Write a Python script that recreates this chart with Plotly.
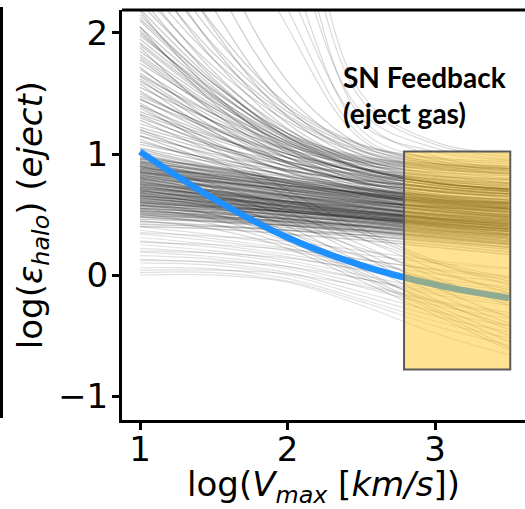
import plotly.graph_objects as go

# ---------------- data ----------------
knots_x = [1.0, 1.5, 2.0, 2.5, 3.0, 3.5]

core_lines = [
    [1.00, 0.88, 0.78, 0.70, 0.65, 0.62], [0.97, 0.85, 0.74, 0.66, 0.60, 0.57],
    [0.95, 0.84, 0.75, 0.67, 0.61, 0.58], [0.93, 0.81, 0.70, 0.62, 0.56, 0.52],
    [0.91, 0.82, 0.73, 0.66, 0.61, 0.59], [0.90, 0.79, 0.69, 0.61, 0.56, 0.54],
    [0.88, 0.76, 0.66, 0.57, 0.51, 0.48], [0.86, 0.77, 0.68, 0.61, 0.56, 0.52],
    [0.85, 0.77, 0.70, 0.64, 0.58, 0.55], [0.83, 0.74, 0.66, 0.60, 0.57, 0.55],
    [0.82, 0.72, 0.63, 0.56, 0.50, 0.47], [0.80, 0.73, 0.66, 0.59, 0.54, 0.50],
    [0.79, 0.70, 0.62, 0.56, 0.50, 0.46], [0.78, 0.69, 0.60, 0.52, 0.46, 0.42],
    [0.77, 0.68, 0.60, 0.53, 0.46, 0.39], [0.76, 0.70, 0.64, 0.58, 0.53, 0.49],
    [0.75, 0.68, 0.61, 0.55, 0.49, 0.44], [0.74, 0.66, 0.59, 0.52, 0.47, 0.44],
    [0.73, 0.65, 0.57, 0.50, 0.43, 0.38], [0.72, 0.67, 0.61, 0.56, 0.50, 0.46],
    [0.71, 0.64, 0.58, 0.51, 0.45, 0.40], [0.70, 0.63, 0.56, 0.49, 0.44, 0.40],
    [0.69, 0.63, 0.57, 0.51, 0.46, 0.41], [0.68, 0.63, 0.58, 0.53, 0.48, 0.45],
    [0.67, 0.60, 0.54, 0.47, 0.41, 0.36], [0.66, 0.60, 0.54, 0.48, 0.42, 0.38],
    [0.65, 0.61, 0.56, 0.51, 0.46, 0.42], [0.64, 0.58, 0.52, 0.46, 0.40, 0.34],
    [0.63, 0.59, 0.54, 0.49, 0.44, 0.41], [0.62, 0.56, 0.50, 0.44, 0.38, 0.33],
    [0.61, 0.57, 0.53, 0.48, 0.43, 0.38], [0.60, 0.55, 0.49, 0.43, 0.37, 0.32],
    [0.59, 0.56, 0.52, 0.47, 0.42, 0.37], [0.58, 0.53, 0.47, 0.41, 0.35, 0.30],
    [0.57, 0.54, 0.50, 0.45, 0.40, 0.36], [0.56, 0.51, 0.46, 0.40, 0.34, 0.28],
    [0.55, 0.52, 0.48, 0.44, 0.39, 0.34], [0.54, 0.49, 0.44, 0.38, 0.32, 0.26],
    [0.53, 0.50, 0.47, 0.42, 0.37, 0.33], [0.52, 0.48, 0.43, 0.37, 0.31, 0.25],
    [0.51, 0.48, 0.45, 0.41, 0.36, 0.31], [0.50, 0.46, 0.41, 0.35, 0.29, 0.23],
    [0.49, 0.47, 0.44, 0.40, 0.35, 0.30], [0.48, 0.44, 0.39, 0.33, 0.27, 0.21],
    [0.46, 0.44, 0.41, 0.37, 0.32, 0.27], [0.44, 0.41, 0.37, 0.31, 0.25, 0.19],
    [0.42, 0.40, 0.37, 0.33, 0.28, 0.23], [0.40, 0.38, 0.34, 0.29, 0.23, 0.17],
    [0.92, 0.83, 0.74, 0.66, 0.58, 0.52], [0.87, 0.80, 0.72, 0.64, 0.57, 0.51],
    [0.84, 0.78, 0.71, 0.63, 0.55, 0.49], [0.81, 0.74, 0.67, 0.60, 0.53, 0.48],
    [0.96, 0.86, 0.76, 0.68, 0.62, 0.60], [0.89, 0.81, 0.73, 0.65, 0.59, 0.55],
    [1.04, 0.90, 0.78, 0.69, 0.63, 0.60], [1.02, 0.89, 0.77, 0.68, 0.62, 0.58],
    [0.99, 0.87, 0.76, 0.67, 0.60, 0.55], [0.98, 0.88, 0.79, 0.71, 0.64, 0.59],
    [0.94, 0.85, 0.76, 0.68, 0.61, 0.56], [0.94, 0.82, 0.72, 0.63, 0.57, 0.53],
    [0.92, 0.80, 0.70, 0.62, 0.55, 0.50], [0.90, 0.82, 0.74, 0.67, 0.60, 0.55],
    [0.89, 0.78, 0.68, 0.60, 0.53, 0.48], [0.87, 0.78, 0.70, 0.62, 0.55, 0.50],
    [0.86, 0.75, 0.65, 0.57, 0.50, 0.45], [0.84, 0.76, 0.68, 0.61, 0.54, 0.49],
    [0.83, 0.73, 0.64, 0.56, 0.49, 0.44], [0.81, 0.73, 0.65, 0.58, 0.52, 0.47],
    [0.80, 0.70, 0.61, 0.53, 0.47, 0.43], [0.79, 0.72, 0.65, 0.59, 0.53, 0.48],
    [0.77, 0.69, 0.61, 0.54, 0.47, 0.42], [0.76, 0.67, 0.59, 0.51, 0.45, 0.41],
    [0.75, 0.69, 0.63, 0.57, 0.51, 0.46], [0.74, 0.65, 0.57, 0.50, 0.44, 0.39],
    [0.73, 0.67, 0.61, 0.55, 0.49, 0.45], [0.72, 0.64, 0.56, 0.49, 0.43, 0.38],
    [0.71, 0.66, 0.60, 0.54, 0.48, 0.43], [0.70, 0.62, 0.55, 0.48, 0.42, 0.37],
    [0.69, 0.64, 0.59, 0.53, 0.47, 0.42], [0.68, 0.61, 0.54, 0.47, 0.41, 0.36],
    [0.67, 0.62, 0.57, 0.52, 0.47, 0.43], [0.66, 0.59, 0.52, 0.46, 0.40, 0.35],
    [0.65, 0.60, 0.55, 0.50, 0.45, 0.40], [0.64, 0.57, 0.51, 0.45, 0.39, 0.34],
    [0.63, 0.58, 0.53, 0.48, 0.43, 0.39], [0.62, 0.57, 0.52, 0.47, 0.41, 0.36],
    [0.61, 0.55, 0.49, 0.43, 0.37, 0.32], [0.60, 0.56, 0.52, 0.47, 0.42, 0.38],
    [0.58, 0.54, 0.49, 0.44, 0.38, 0.33], [0.57, 0.52, 0.46, 0.40, 0.34, 0.29],
    [0.55, 0.51, 0.46, 0.41, 0.36, 0.31], [0.53, 0.49, 0.44, 0.39, 0.33, 0.28],
    [0.51, 0.47, 0.42, 0.37, 0.31, 0.26], [0.48, 0.45, 0.41, 0.36, 0.30, 0.25],
    [0.96, 0.89, 0.81, 0.73, 0.66, 0.61], [0.93, 0.86, 0.79, 0.72, 0.65, 0.60],
    [0.88, 0.83, 0.77, 0.71, 0.65, 0.60], [0.85, 0.80, 0.74, 0.68, 0.62, 0.57],
    [0.82, 0.77, 0.71, 0.65, 0.59, 0.54],
]

upper_lines = [
    [1.05, 0.93, 0.83, 0.75, 0.70, 0.67], [1.10, 0.95, 0.82, 0.72, 0.66, 0.63],
    [1.15, 1.00, 0.87, 0.78, 0.72, 0.69], [1.20, 1.02, 0.87, 0.76, 0.69, 0.65],
    [1.25, 1.07, 0.93, 0.83, 0.77, 0.74], [1.30, 1.08, 0.90, 0.77, 0.69, 0.65],
    [1.35, 1.14, 0.97, 0.86, 0.79, 0.76], [1.40, 1.15, 0.94, 0.80, 0.71, 0.67],
    [1.45, 1.20, 1.00, 0.88, 0.82, 0.79], [1.50, 1.21, 0.97, 0.81, 0.72, 0.67],
    [1.55, 1.27, 1.04, 0.91, 0.85, 0.82], [1.60, 1.27, 1.00, 0.82, 0.72, 0.67],
    [1.65, 1.33, 1.07, 0.93, 0.87, 0.84], [1.70, 1.33, 1.03, 0.84, 0.74, 0.69],
    [1.75, 1.38, 1.09, 0.94, 0.88, 0.85], [1.80, 1.38, 1.05, 0.85, 0.74, 0.69],
    [1.85, 1.43, 1.11, 0.95, 0.89, 0.87], [1.90, 1.44, 1.08, 0.87, 0.76, 0.71],
    [1.95, 1.48, 1.13, 0.96, 0.90, 0.88], [2.00, 1.49, 1.10, 0.88, 0.76, 0.71],
    [2.05, 1.53, 1.15, 0.97, 0.91, 0.89], [2.10, 1.55, 1.12, 0.88, 0.76, 0.70],
    [2.15, 1.58, 1.17, 0.98, 0.92, 0.90], [2.20, 1.60, 1.14, 0.89, 0.77, 0.71],
    [1.12, 0.92, 0.76, 0.64, 0.56, 0.52], [1.28, 1.02, 0.81, 0.67, 0.58, 0.53],
    [1.42, 1.10, 0.85, 0.69, 0.59, 0.54], [1.58, 1.18, 0.89, 0.71, 0.61, 0.55],
    [1.72, 1.26, 0.93, 0.73, 0.62, 0.56], [1.88, 1.34, 0.97, 0.75, 0.63, 0.57],
    [2.05, 1.42, 1.01, 0.77, 0.65, 0.58], [1.18, 0.98, 0.82, 0.70, 0.63, 0.59],
    [1.38, 1.08, 0.86, 0.72, 0.64, 0.60], [1.62, 1.22, 0.93, 0.76, 0.67, 0.62],
    [1.08, 0.96, 0.86, 0.78, 0.73, 0.70], [1.22, 1.05, 0.90, 0.79, 0.72, 0.68],
    [1.33, 1.12, 0.94, 0.82, 0.75, 0.71], [1.48, 1.22, 1.00, 0.85, 0.76, 0.71],
    [1.52, 1.18, 0.92, 0.76, 0.67, 0.62], [1.67, 1.30, 1.02, 0.85, 0.76, 0.72],
    [1.78, 1.36, 1.04, 0.84, 0.74, 0.69], [1.92, 1.46, 1.10, 0.89, 0.79, 0.75],
    [2.02, 1.47, 1.06, 0.83, 0.72, 0.67], [2.12, 1.58, 1.17, 0.93, 0.82, 0.78],
    [2.18, 1.50, 1.04, 0.80, 0.69, 0.64], [1.15, 0.94, 0.78, 0.67, 0.60, 0.56],
    [1.32, 1.06, 0.85, 0.71, 0.63, 0.59], [1.46, 1.16, 0.92, 0.77, 0.69, 0.65],
    [1.64, 1.26, 0.97, 0.79, 0.70, 0.66], [1.82, 1.40, 1.08, 0.88, 0.78, 0.73],
    [1.98, 1.52, 1.14, 0.92, 0.81, 0.76], [2.25, 1.65, 1.20, 0.95, 0.84, 0.79],
    [2.30, 1.62, 1.14, 0.88, 0.76, 0.71],
]

high_lines = [
    [2.35, 1.72, 1.27, 1.00, 0.88, 0.83], [2.45, 1.78, 1.30, 1.02, 0.90, 0.86],
    [2.55, 1.83, 1.32, 1.03, 0.92, 0.88], [2.70, 1.90, 1.35, 1.05, 0.94, 0.90],
    [2.85, 1.98, 1.38, 1.07, 0.96, 0.92], [3.00, 2.06, 1.41, 1.08, 0.97, 0.94],
    [2.40, 1.68, 1.17, 0.89, 0.77, 0.70], [2.60, 1.78, 1.21, 0.91, 0.79, 0.72],
    [2.80, 1.88, 1.25, 0.93, 0.80, 0.74], [3.10, 2.03, 1.31, 0.96, 0.83, 0.76],
    [3.40, 2.20, 1.38, 0.99, 0.86, 0.80], [3.80, 2.44, 1.48, 1.03, 0.89, 0.84],
    [4.20, 2.70, 1.60, 1.07, 0.92, 0.88],
]

steep_lines = [
    [6.0, 4.0, 2.40, 1.25, 1.02, 0.95], [7.0, 5.0, 2.90, 1.35, 1.05, 0.96],
    [8.0, 6.0, 3.50, 1.45, 1.08, 0.98], [6.5, 4.5, 2.60, 1.20, 0.95, 0.86],
    [7.5, 5.5, 3.20, 1.30, 0.98, 0.88], [9.0, 7.0, 4.00, 1.50, 1.10, 1.00],
    [5.5, 3.6, 2.20, 1.15, 0.92, 0.84], [5.0, 3.3, 2.05, 1.12, 0.93, 0.87],
]

low_lines = [
    [0.40, 0.33, 0.25, 0.17, 0.10, 0.05], [0.37, 0.30, 0.22, 0.13, 0.05, -0.01],
    [0.34, 0.28, 0.20, 0.10, 0.01, -0.06], [0.31, 0.25, 0.17, 0.07, -0.03, -0.10],
    [0.28, 0.23, 0.15, 0.04, -0.07, -0.15], [0.25, 0.20, 0.12, 0.00, -0.12, -0.20],
    [0.22, 0.18, 0.10, -0.03, -0.16, -0.25], [0.19, 0.15, 0.07, -0.07, -0.21, -0.31],
    [0.16, 0.13, 0.05, -0.10, -0.25, -0.36], [0.13, 0.10, 0.02, -0.14, -0.30, -0.42],
    [0.10, 0.08, 0.00, -0.17, -0.34, -0.47], [0.06, 0.05, -0.03, -0.20, -0.38, -0.52],
    [0.02, 0.02, -0.05, -0.22, -0.42, -0.58], [0.00, 0.00, -0.06, -0.25, -0.48, -0.66],
    [0.35, 0.32, 0.28, 0.20, 0.12, 0.06], [0.27, 0.25, 0.21, 0.13, 0.04, -0.03],
    [0.20, 0.18, 0.14, 0.05, -0.05, -0.13], [0.12, 0.11, 0.07, -0.03, -0.14, -0.23],
    [0.04, 0.04, 0.01, -0.09, -0.22, -0.33],
]

dive_lines = [
    [0.90, 0.75, 0.55, 0.30, 0.05, -0.15], [0.85, 0.72, 0.52, 0.25, -0.02, -0.25],
    [0.80, 0.68, 0.48, 0.20, -0.10, -0.35], [0.75, 0.64, 0.45, 0.16, -0.15, -0.40],
    [0.70, 0.60, 0.40, 0.10, -0.20, -0.45], [0.65, 0.56, 0.36, 0.05, -0.25, -0.50],
    [0.60, 0.50, 0.30, 0.02, -0.22, -0.42], [0.55, 0.46, 0.28, 0.00, -0.28, -0.55],
    [0.50, 0.42, 0.25, -0.02, -0.30, -0.60], [0.45, 0.38, 0.22, -0.05, -0.33, -0.62],
    [0.78, 0.66, 0.50, 0.30, 0.10, -0.05], [0.68, 0.58, 0.42, 0.22, 0.02, -0.12],
    [0.58, 0.50, 0.35, 0.15, -0.05, -0.20], [1.20, 0.95, 0.65, 0.35, 0.10, -0.08],
    [1.40, 1.05, 0.70, 0.38, 0.12, -0.02],
]

model_x = [1.0, 1.5, 2.0, 2.5, 3.0, 3.5]
model_y = [1.02, 0.63, 0.31, 0.08, -0.08, -0.19]

box_x = [2.79, 3.51]
box_y = [-0.78, 1.02]

x_ticks = [1, 2, 3]
y_ticks = [-1, 0, 1, 2]
y_tick_text = ["\u22121", "0", "1", "2"]

annotation_text = "<b>SN Feedback<br>(eject gas)</b>"

# ---------------- figure ----------------
fig = go.Figure()

groups = [
    (upper_lines, "rgba(0,0,0,0.21)", 1.3),
    (high_lines, "rgba(0,0,0,0.19)", 1.3),
    (steep_lines, "rgba(0,0,0,0.15)", 1.2),
    (low_lines, "rgba(0,0,0,0.12)", 1.2),
    (dive_lines, "rgba(0,0,0,0.16)", 1.2),
    (core_lines, "rgba(0,0,0,0.20)", 1.5),
]
for lines, col, w in groups:
    for ys in lines:
        fig.add_trace(go.Scatter(
            x=knots_x, y=ys, mode="lines",
            line=dict(color=col, width=w, shape="spline", smoothing=1.0),
            hoverinfo="skip", showlegend=False,
        ))

fig.add_trace(go.Scatter(
    x=model_x, y=model_y, mode="lines",
    line=dict(color="#1E90FF", width=6.5, shape="spline"),
    showlegend=False,
))

fig.add_shape(type="rect", xref="x", yref="y",
              x0=box_x[0], x1=box_x[1], y0=box_y[0], y1=box_y[1],
              fillcolor="rgba(255,200,40,0.5)",
              line=dict(color="#5a5a5a", width=2), layer="above")

# top spine
fig.add_shape(type="line", xref="paper", yref="paper", x0=0, x1=1, y0=1, y1=1,
              line=dict(color="black", width=3))
# left edge of neighbouring panel
fig.add_shape(type="line", xref="paper", yref="paper",
              x0=-120.5 / 403, x1=-120.5 / 403, y0=(420 - 7) / 410, y1=(420 - 418) / 410,
              line=dict(color="black", width=3))

fig.add_annotation(x=2.365, y=1.49, xref="x", yref="y", text=annotation_text,
                   showarrow=False, align="left", xanchor="left", yanchor="middle",
                   font=dict(family="Lato", size=28, color="black", weight="bold"))

axis_font = dict(family="DejaVu Sans", size=34, color="black")

fig.update_layout(
    width=525, height=509,
    margin=dict(l=122, r=0, t=10, b=89),
    paper_bgcolor="white", plot_bgcolor="white",
    showlegend=False,
    xaxis=dict(range=[0.878, 3.61], tickvals=x_ticks, ticktext=[str(v) for v in x_ticks],
               showgrid=False, zeroline=False, showline=True, linecolor="black", linewidth=3,
               ticks="outside", ticklen=7, tickwidth=2.5, tickcolor="black",
               tickfont=axis_font, ticklabelstandoff=-10,
               title=dict(text="log(<i>V</i><sub><i>max</i></sub> [<i>km/s</i>])",
                          font=axis_font, standoff=12)),
    yaxis=dict(range=[-1.198, 2.19], tickvals=y_ticks, ticktext=y_tick_text,
               showgrid=False, zeroline=False, showline=True, linecolor="black", linewidth=3,
               ticks="outside", ticklen=7, tickwidth=2.5, tickcolor="black",
               tickfont=axis_font, ticklabelstandoff=-3,
               title=dict(text="log(<i>\u03b5</i><sub><i>halo</i></sub>) (<i>eject</i>)",
                          font=axis_font, standoff=6)),
)

fig.write_html("out.html")
